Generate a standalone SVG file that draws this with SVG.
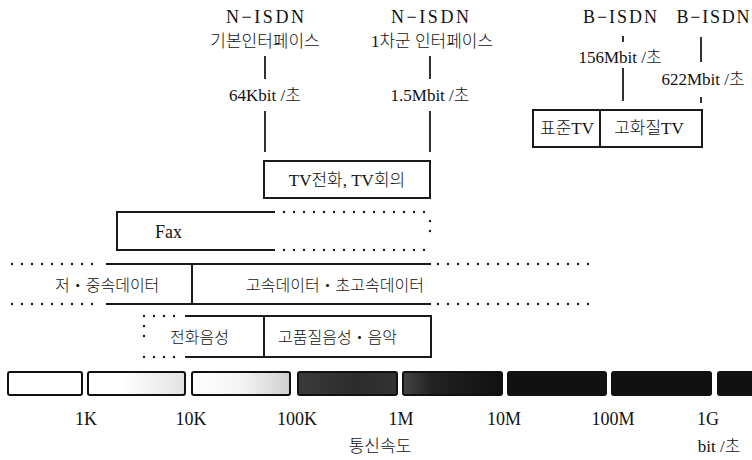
<svg xmlns="http://www.w3.org/2000/svg" width="752" height="460" viewBox="0 0 752 460">
<defs>
<style>
text{font-family:"Liberation Serif","Noto Sans CJK KR",serif;fill:#111;font-size:17px;font-weight:300}
.lat{font-size:18px}
.ko{font-size:16px}
.m{text-anchor:middle}
.ln{stroke:#1a1a1a;stroke-width:1.8;fill:none}
.box{stroke:#1a1a1a;stroke-width:2;fill:none}
.dot{stroke:#1a1a1a;stroke-width:2.4;stroke-linecap:round;stroke-dasharray:0 10;fill:none}
.seg{stroke:#111;stroke-width:2}
</style>
<linearGradient id="g2" x1="0" x2="1" y1="0" y2="0">
<stop offset="0" stop-color="#fff"/><stop offset="0.35" stop-color="#fff"/><stop offset="1" stop-color="#e2e2e2"/>
</linearGradient>
<linearGradient id="g3" x1="0" x2="1" y1="0" y2="0">
<stop offset="0" stop-color="#fff"/><stop offset="0.5" stop-color="#f4f4f4"/><stop offset="1" stop-color="#cfcfcf"/>
</linearGradient>
<linearGradient id="g4" x1="0" x2="1" y1="0" y2="0">
<stop offset="0" stop-color="#3a3a3a"/><stop offset="0.6" stop-color="#2c2c2c"/><stop offset="1" stop-color="#333"/>
</linearGradient>
<linearGradient id="g5" x1="0" x2="1" y1="0" y2="0">
<stop offset="0" stop-color="#444"/><stop offset="0.3" stop-color="#222"/><stop offset="1" stop-color="#111"/>
</linearGradient>
</defs>
<rect width="752" height="460" fill="#fff"/>

<g id="connectors">
<line class="ln" x1="265" y1="56" x2="265" y2="79"/>
<line class="ln" x1="265" y1="111" x2="265" y2="152"/>
<line class="ln" x1="430" y1="56" x2="430" y2="79"/>
<line class="ln" x1="430" y1="111" x2="430" y2="152"/>
<line class="ln" x1="623" y1="36" x2="623" y2="42"/>
<line class="ln" x1="623" y1="68" x2="623" y2="101"/>
<line class="ln" x1="701" y1="37" x2="701" y2="62"/>
<line class="ln" x1="701" y1="97" x2="701" y2="103"/>
</g>

<g id="nisdn-basic">
<text class="lat m" x="265" y="23" textLength="78" lengthAdjust="spacing">N−ISDN</text>
<text class="m" x="265" y="47">기본인터페이스</text>
<text class="m" x="265" y="101">64Kbit /초</text>
</g>
<g id="nisdn-primary">
<text class="lat m" x="430" y="23" textLength="78" lengthAdjust="spacing">N−ISDN</text>
<text class="m" x="432" y="47">1차군 인터페이스</text>
<text class="m" x="430" y="101">1.5Mbit /초</text>
</g>
<g id="bisdn-156">
<text class="lat m" x="620" y="23" textLength="74" lengthAdjust="spacing">B−ISDN</text>
<text class="m" x="620" y="63">156Mbit /초</text>
</g>
<g id="bisdn-622">
<text class="lat m" x="713" y="23" textLength="73" lengthAdjust="spacing">B−ISDN</text>
<text class="m" x="703" y="85">622Mbit /초</text>
</g>

<g id="tv-box">
<rect class="box" x="533" y="110" width="169" height="37"/>
<line class="box" x1="600" y1="110" x2="600" y2="147"/>
<text class="m" x="567" y="134">표준TV</text>
<text class="m" x="649" y="134">고화질TV</text>
</g>

<g id="tv-phone">
<rect class="box" x="264" y="161" width="166" height="37"/>
<text class="m" x="347" y="186">TV전화, TV회의</text>
</g>

<g id="fax">
<path class="box" d="M275,212 H117 V250 H275"/>
<line class="dot" x1="284" y1="212" x2="430" y2="212"/>
<line class="dot" x1="284" y1="250" x2="430" y2="250"/>
<line class="dot" x1="430" y1="221" x2="430" y2="241"/>
<text class="lat" x="155" y="238">Fax</text>
</g>

<g id="data">
<line class="dot" x1="12" y1="264" x2="100" y2="264"/>
<line class="box" x1="106" y1="264" x2="431" y2="264"/>
<line class="dot" x1="438" y1="264" x2="592" y2="264"/>
<line class="dot" x1="12" y1="304" x2="100" y2="304"/>
<line class="box" x1="106" y1="304" x2="431" y2="304"/>
<line class="dot" x1="438" y1="304" x2="592" y2="304"/>
<line class="box" x1="192" y1="264" x2="192" y2="304"/>
<text class="ko" x="55" y="291">저・중속데이터</text>
<text class="ko" x="246" y="291">고속데이터・초고속데이터</text>
</g>

<g id="voice">
<line class="dot" x1="144" y1="316" x2="178" y2="316"/>
<line class="dot" x1="144" y1="357" x2="178" y2="357"/>
<line class="dot" x1="144" y1="326" x2="144" y2="346"/>
<path class="box" d="M185,316 H431 V357 H185"/>
<line class="box" x1="264" y1="316" x2="264" y2="357"/>
<text class="ko" x="170" y="343">전화음성</text>
<text class="ko" x="278" y="343">고품질음성・음악</text>
</g>

<g id="speed-bar">
<rect class="seg" x="8" y="372" width="74" height="23" rx="2" fill="#fff"/>
<rect class="seg" x="88" y="372" width="97" height="23" rx="2" fill="url(#g2)"/>
<rect class="seg" x="192" y="372" width="98" height="23" rx="2" fill="url(#g3)"/>
<rect class="seg" x="298" y="372" width="99" height="23" rx="2" fill="url(#g4)"/>
<rect class="seg" x="403" y="372" width="99" height="23" rx="2" fill="url(#g5)"/>
<rect class="seg" x="508" y="372" width="98" height="23" rx="2" fill="#111"/>
<rect class="seg" x="612" y="372" width="99" height="23" rx="2" fill="#111"/>
<rect class="seg" x="718" y="372" width="40" height="23" rx="2" fill="#111"/>
</g>

<g id="speed-labels">
<text class="lat m" x="86" y="425">1K</text>
<text class="lat m" x="191" y="425">10K</text>
<text class="lat m" x="297" y="425">100K</text>
<text class="lat m" x="401" y="425">1M</text>
<text class="lat m" x="504" y="425">10M</text>
<text class="lat m" x="613" y="425">100M</text>
<text class="lat m" x="708" y="425">1G</text>
<text class="m" x="380" y="452">통신속도</text>
<text class="m" x="719" y="452">bit /초</text>
</g>
</svg>
